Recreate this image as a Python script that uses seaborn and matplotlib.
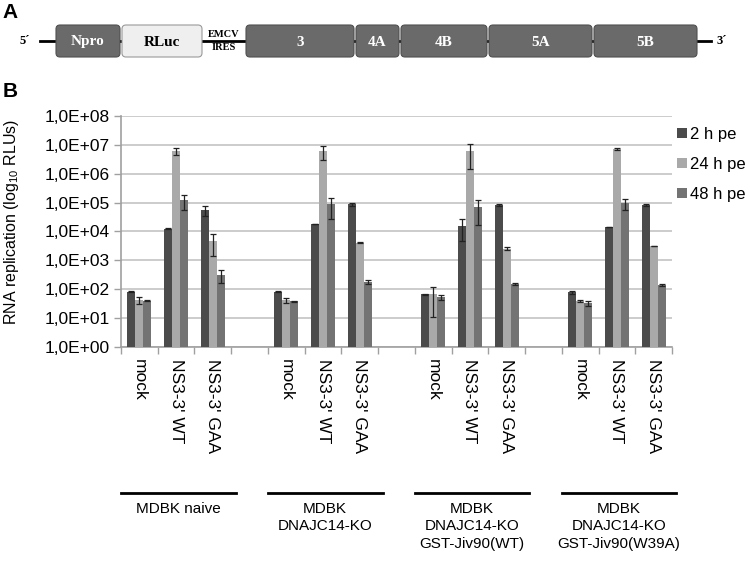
import numpy as np
import matplotlib
matplotlib.use('Agg')
import matplotlib.pyplot as plt
import pandas as pd
import seaborn as sns
from matplotlib.patches import FancyBboxPatch
from matplotlib.ticker import FixedLocator, FuncFormatter
import matplotlib.transforms as mtransforms

# ---- data ----
conditions = ["mock", "NS3-3' WT", "NS3-3' GAA"]
cell_lines = ["MDBK naive", "MDBK\nDNAJC14-KO", "MDBK\nDNAJC14-KO\nGST-Jiv90(WT)",
              "MDBK\nDNAJC14-KO\nGST-Jiv90(W39A)"]
times = ["2 h pe", "24 h pe", "48 h pe"]

# values in the order: naive(mock, WT, GAA), KO(...), KO+WT(...), KO+W39A(...)
rlu_2h = [82, 12500, 54000, 82, 18000, 87000, 66, 15500, 80000, 76, 14000, 80000]
rlu_24h = [42, 6.0e6, 4800, 42, 6.0e6, 4100, 66, 6.0e6, 2500, 39, 7.3e6, 3100]
rlu_48h = [39, 1.2e5, 300, 37, 8.7e4, 180, 51, 7.0e4, 148, 32, 9.6e4, 140]

sd_2h = [5, 200, 2.0e4, 3, 300, 1.1e4, 2, 1.1e4, 7000, 8, 200, 6000]
sd_24h = [12, 1.5e6, 3400, 8, 2.9e6, 200, 55, 4.5e6, 300, 4, 7e5, 100]
sd_48h = [2, 6.5e4, 140, 2, 6.0e4, 25, 9, 5.3e4, 15, 7, 4.0e4, 15]

# genome schematic (panel A)
segments = ["Npro", "RLuc", "", "3", "4A", "4B", "5A", "5B"]
seg_edges = [55, 121, 203, 245, 355, 400, 488, 593, 698]

# ---- build long table ----
rows = []
for g in range(len(cell_lines)):
    for c, cond in enumerate(conditions):
        i = g * 3 + c
        for t, vals, sds in zip(times, [rlu_2h, rlu_24h, rlu_48h], [sd_2h, sd_24h, sd_48h]):
            rows.append({'slot': f"g{g}_{c}", 'time': t, 'rlu': vals[i], 'sd': sds[i]})
df = pd.DataFrame(rows)

order = []
ticklabels = []
for g in range(len(cell_lines)):
    for c, cond in enumerate(conditions):
        order.append(f"g{g}_{c}")
        ticklabels.append(cond)
    if g < len(cell_lines) - 1:
        order.append(f"gap{g}")
        ticklabels.append("")

colors = ['#4b4b4b', '#a9a9a9', '#737373']

plt.rcParams['font.family'] = ['Liberation Sans', 'DejaVu Sans']
plt.rcParams['mathtext.fontset'] = 'custom'
plt.rcParams['mathtext.rm'] = 'Liberation Sans'
plt.rcParams['mathtext.default'] = 'regular'

fig = plt.figure(figsize=(7.5, 5.64), dpi=100)

# ---- panel A: genome schematic ----
ax0 = fig.add_axes([0, 0, 1, 1])
ax0.set_xlim(0, 750)
ax0.set_ylim(564, 0)
ax0.axis('off')
ax0.plot([40, 711], [41, 41], color='black', lw=2, zorder=1)
for name, x0, x1 in zip(segments, seg_edges[:-1], seg_edges[1:]):
    if name == "":
        ax0.text((x0 + x1) / 2, 41, "EMCV\nIRES", ha='center', va='center', fontsize=7.5,
                 fontweight='bold', family='Liberation Serif', linespacing=1.5)
        continue
    light = name == "RLuc"
    box = FancyBboxPatch((x0 + 1, 25), x1 - x0 - 2, 32, boxstyle="round,pad=0,rounding_size=4",
                         facecolor='#efefef' if light else '#6a6a6a',
                         edgecolor='#9a9a9a' if light else '#505050', lw=0.8, zorder=2)
    ax0.add_patch(box)
    ax0.text((x0 + x1) / 2, 42, name, ha='center', va='center', fontsize=11, fontweight='bold',
             family='Liberation Serif', color='black' if light else 'white', zorder=3)
ax0.text(25, 41, "5\u00b4", ha='center', va='center', fontsize=9, fontweight='bold', family='Liberation Serif')
ax0.text(722, 41, "3\u00b4", ha='center', va='center', fontsize=9, fontweight='bold', family='Liberation Serif')
fig.text(0.003, 0.995, "A", fontsize=15, fontweight='bold', va='top', ha='left')
fig.text(0.003, 0.855, "B", fontsize=15, fontweight='bold', va='top', ha='left')

# ---- panel B: bar chart ----
ax = fig.add_axes([121 / 750, 1 - 346.7 / 564, 551 / 750, (346.7 - 116) / 564])
sns.barplot(data=df, x='slot', y='rlu', hue='time', order=order, hue_order=times,
            palette=colors, width=0.66, errorbar=None, saturation=1, ax=ax)
ax.set_yscale('log')

# error bars at bar centres
sd_lookup = {(r.slot, r.time): r.sd for r in df.itertuples()}
val_lookup = {(r.slot, r.time): r.rlu for r in df.itertuples()}
for t, cont in zip(times, ax.containers):
    for bar in cont:
        bar.set_zorder(3)
        xc = bar.get_x() + bar.get_width() / 2
        slot = order[int(round(xc))]
        if (slot, t) not in val_lookup:
            continue
        ax.errorbar(xc, val_lookup[(slot, t)], yerr=sd_lookup[(slot, t)], fmt='none',
                    ecolor='#222222', elinewidth=0.9, capsize=2.2, capthick=0.9, zorder=4)

ax.set_ylim(1, 1e8)
ax.set_xlim(-0.5, len(order) - 0.5)
ax.yaxis.set_major_locator(FixedLocator([10.0 ** k for k in range(9)]))
ax.yaxis.set_minor_locator(FixedLocator([]))
ax.yaxis.set_major_formatter(FuncFormatter(lambda v, p: f"{v:.1E}".replace('.', ',')))
ax.grid(axis='y', color='#c4c4c4', lw=1.2, zorder=0)
ax.set_axisbelow(True)

ax.set_xticks(range(len(order)))
ax.set_xticklabels(ticklabels, rotation=-90, va='top', ha='center', fontsize=12.5)
ax.xaxis.set_minor_locator(FixedLocator(np.arange(-0.5, len(order), 1.0)))
ax.tick_params(axis='x', which='major', length=0, pad=9)
ax.tick_params(axis='x', which='minor', length=5, color='#a0a0a0', width=1)
ax.tick_params(axis='y', which='major', length=5, color='#a0a0a0', width=1, labelsize=12.5, pad=3)
for s in ['top', 'right']:
    ax.spines[s].set_visible(False)
for s in ['left', 'bottom']:
    ax.spines[s].set_color('#a0a0a0')
    ax.spines[s].set_linewidth(1.2)
ax.set_xlabel('')
ax.set_ylabel('')
fig.text(12 / 750, 1 - 222 / 564, "RNA replication (log$_{10}$ RLUs)", rotation=90,
         ha='center', va='center', fontsize=11.5)

ax.legend(title=None, loc='upper left', bbox_to_anchor=(677 / 750, 1 - 127 / 564),
          bbox_transform=fig.transFigure, frameon=False, fontsize=12,
          handlelength=0.6, handleheight=0.6, handletextpad=0.2, labelspacing=0.9,
          borderpad=0, borderaxespad=0)

# cell-line labels below the axis
trans = mtransforms.blended_transform_factory(ax.transData, fig.transFigure)
for g, name in enumerate(cell_lines):
    x0 = g * 4 - 0.5
    x1 = g * 4 + 2.62
    ax.plot([x0, x1], [1 - 493 / 564] * 2, transform=trans, color='black', lw=2, clip_on=False)
    ax.text((x0 + x1) / 2, 1 - 502 / 564, name, transform=trans, ha='center', va='top',
            fontsize=11, linespacing=1.3)

fig.savefig('out.png', dpi=100)
